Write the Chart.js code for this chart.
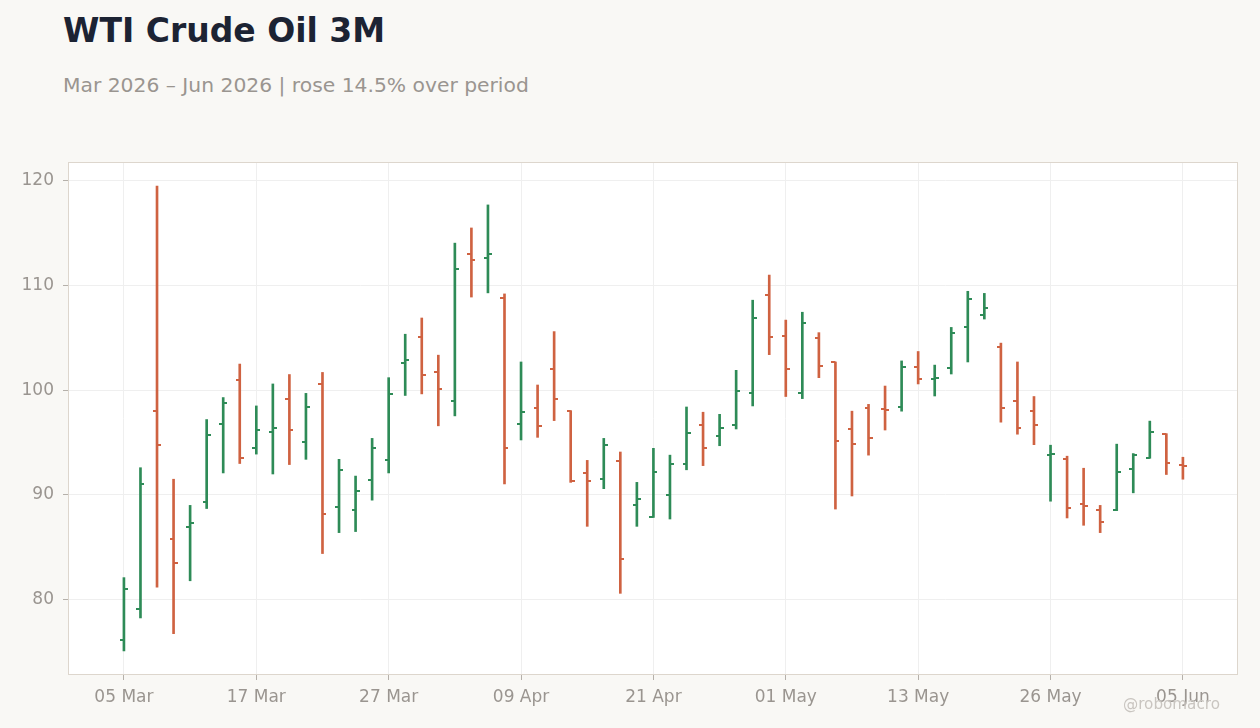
<!DOCTYPE html>
<html>
<head>
<meta charset="utf-8">
<script src="https://cdn.jsdelivr.net/npm/chart.js@4.4.1/dist/chart.umd.min.js"></script>
<style>
  html, body { margin: 0; padding: 0; background: #f9f8f5; }
  body { width: 1260px; height: 728px; position: relative; overflow: hidden; font-family: 'DejaVu Sans', sans-serif; }
  #title { position: absolute; left: 63px; top: 14px; font-size: 33px; line-height: 33px; font-weight: bold; color: #1c2333; white-space: nowrap; }
  #subtitle { position: absolute; left: 63px; top: 75px; font-size: 20.3px; line-height: 20.3px; color: #9a9590; white-space: nowrap; }
  #credit { position: absolute; left: 1123px; top: 697px; font-size: 15.2px; line-height: 15.2px; color: #c9c5c0; white-space: nowrap; }
  canvas { position: absolute; left: 0; top: 0; }
</style>
</head>
<body>
<div id="title">WTI Crude Oil 3M</div>
<div id="subtitle">Mar 2026 – Jun 2026 | rose 14.5% over period</div>
<canvas id="ohlcChart" width="1260" height="728"></canvas>
<div id="credit">@robomacro</div>
<script>
// trading days
const dates = [
  '05 Mar', '06 Mar', '09 Mar', '10 Mar', '11 Mar', '12 Mar', '13 Mar', '16 Mar', '17 Mar', '18 Mar',
  '19 Mar', '20 Mar', '23 Mar', '24 Mar', '25 Mar', '26 Mar', '27 Mar', '30 Mar', '31 Mar', '01 Apr',
  '02 Apr', '06 Apr', '07 Apr', '08 Apr', '09 Apr', '10 Apr', '13 Apr', '14 Apr', '15 Apr', '16 Apr',
  '17 Apr', '20 Apr', '21 Apr', '22 Apr', '23 Apr', '24 Apr', '27 Apr', '28 Apr', '29 Apr', '30 Apr',
  '01 May', '04 May', '05 May', '06 May', '07 May', '08 May', '11 May', '12 May', '13 May', '14 May',
  '15 May', '18 May', '19 May', '20 May', '21 May', '22 May', '26 May', '27 May', '28 May', '29 May',
  '01 Jun', '02 Jun', '03 Jun', '04 Jun', '05 Jun'
];

const opens = [
  76.1, 79.1, 98.0, 85.8, 86.9, 89.3, 96.75, 101.0, 94.5, 96.0,
  99.2, 95.1, 100.6, 88.85, 88.6, 91.4, 93.3, 102.6, 105.1, 101.75,
  99.0, 113.0, 112.6, 108.8, 96.8, 98.3, 102.0, 98.05, 92.1, 91.5,
  93.25, 89.05, 87.9, 90.0, 93.0, 96.7, 95.6, 96.7, 99.75, 109.1,
  105.2, 99.75, 105.0, 102.7, 96.3, 98.3, 98.2, 98.4, 102.2, 101.05,
  102.1, 106.05, 107.2, 104.15, 99.0, 98.0, 93.85, 93.45, 89.15, 88.6,
  88.6, 92.5, 93.55, 95.8, 92.9
];
const highs = [
  82.1, 92.6, 119.5, 91.5, 89.0, 97.2, 99.3, 102.5, 98.5, 100.6,
  101.5, 99.7, 101.7, 93.4, 91.8, 95.4, 101.2, 105.35, 106.9, 103.35,
  114.05, 115.5, 117.7, 109.2, 102.7, 100.5, 105.6, 98.05, 93.3, 95.4,
  94.1, 91.2, 94.45, 93.8, 98.4, 97.9, 97.7, 101.9, 108.6, 111.0,
  106.7, 107.45, 105.5, 102.7, 98.0, 98.65, 100.4, 102.8, 103.7, 102.4,
  106.0, 109.45, 109.25, 104.5, 102.7, 99.4, 94.75, 93.7, 92.55, 89.0,
  94.85, 93.95, 97.05, 95.85, 93.6
];
const lows = [
  75.1, 78.25, 81.2, 76.75, 81.8, 88.7, 92.1, 93.0, 93.9, 92.0,
  92.9, 93.4, 84.4, 86.4, 86.5, 89.5, 92.1, 99.5, 99.65, 96.6,
  97.55, 108.9, 109.3, 91.05, 95.25, 95.5, 97.1, 91.2, 87.0, 90.6,
  80.6, 87.0, 87.85, 87.7, 92.4, 92.8, 94.7, 96.3, 98.5, 103.4,
  99.4, 99.2, 101.2, 88.65, 89.9, 93.8, 96.2, 98.0, 100.6, 99.45,
  101.55, 102.7, 106.8, 96.95, 95.8, 94.8, 89.4, 87.8, 87.1, 86.4,
  88.5, 90.2, 93.5, 91.95, 91.5
];
const closes = [
  81.0, 91.0, 94.75, 83.5, 87.3, 95.7, 98.8, 93.5, 96.2, 96.4,
  96.2, 98.4, 88.2, 92.4, 90.4, 94.5, 99.65, 102.9, 101.5, 100.1,
  111.6, 112.45, 113.0, 94.5, 97.9, 96.6, 99.2, 91.3, 91.35, 94.75,
  83.9, 89.6, 92.2, 93.0, 95.9, 94.5, 96.4, 99.9, 106.9, 105.1,
  102.0, 106.4, 102.3, 95.15, 94.85, 95.45, 98.1, 102.2, 101.05, 101.2,
  105.45, 108.7, 107.85, 98.3, 96.4, 96.7, 93.9, 88.75, 88.95, 87.4,
  92.2, 93.8, 96.0, 93.05, 92.8
];

const yTicks = [80, 90, 100, 110, 120];
const xTickEvery = 8;

const UP = '#2e8b57';
const DOWN = '#cf6241';

const colors = closes.map((c, i) => (c >= opens[i] ? UP : DOWN));

// small images for the open (left) and close (right) ticks
function tickImage(color, side) {
  const c = document.createElement('canvas');
  c.width = 8;
  c.height = 2;
  const g = c.getContext('2d');
  g.fillStyle = color;
  g.fillRect(side === 'left' ? 0 : 4, 0, 4, 2);
  return c;
}
const openImg = { [UP]: tickImage(UP, 'left'), [DOWN]: tickImage(DOWN, 'left') };
const closeImg = { [UP]: tickImage(UP, 'right'), [DOWN]: tickImage(DOWN, 'right') };

const framePlugin = {
  id: 'frame',
  beforeDraw(chart) {
    const { ctx, chartArea: a } = chart;
    ctx.save();
    ctx.fillStyle = '#ffffff';
    ctx.fillRect(a.left, a.top, a.right - a.left, a.bottom - a.top);
    ctx.restore();
  },
  afterDraw(chart) {
    const { ctx, chartArea: a } = chart;
    ctx.save();
    ctx.strokeStyle = '#ddd6cd';
    ctx.lineWidth = 1;
    ctx.strokeRect(a.left + 0.5, a.top + 0.5, a.right - a.left - 1, a.bottom - a.top - 1);
    ctx.restore();
  }
};

const tickFont = { family: "'DejaVu Sans', sans-serif", size: 17 };

new Chart(document.getElementById('ohlcChart'), {
  type: 'bar',
  data: {
    datasets: [
      {
        type: 'line',
        label: 'Open',
        data: opens.map((v, i) => ({ x: i, y: v })),
        showLine: false,
        pointStyle: colors.map(c => openImg[c]),
        order: 0
      },
      {
        type: 'line',
        label: 'Close',
        data: closes.map((v, i) => ({ x: i, y: v })),
        showLine: false,
        pointStyle: colors.map(c => closeImg[c]),
        order: 0
      },
      {
        label: 'Range',
        data: lows.map((l, i) => ({ x: i, y: [l, highs[i]] })),
        backgroundColor: colors,
        barThickness: 2,
        borderWidth: 0,
        borderSkipped: false,
        order: 1
      }
    ]
  },
  options: {
    responsive: false,
    animation: false,
    events: [],
    layout: { padding: { top: 162, right: 22, bottom: 0, left: 0 } },
    plugins: {
      legend: { display: false },
      tooltip: { enabled: false }
    },
    scales: {
      x: {
        type: 'linear',
        min: -3.38,
        max: 67.33,
        offset: false,
        border: { display: false },
        grid: { color: '#efefef', tickColor: '#b5b0aa', tickLength: 5, offset: false },
        ticks: {
          color: '#9a9590',
          font: tickFont,
          padding: 7,
          maxRotation: 0,
          callback: v => dates[v] || ''
        },
        afterBuildTicks: scale => {
          scale.ticks = dates.map((d, i) => i).filter(i => i % xTickEvery === 0).map(i => ({ value: i }));
        },
        afterFit: scale => { scale.height = 53; }
      },
      y: {
        min: 72.8,
        max: 121.8,
        border: { display: false },
        grid: { color: '#efefef', tickColor: '#b5b0aa', tickLength: 5 },
        ticks: { color: '#9a9590', font: tickFont, padding: 9 },
        afterBuildTicks: scale => {
          scale.ticks = yTicks.map(v => ({ value: v }));
        },
        afterFit: scale => { scale.width = 68; }
      }
    }
  },
  plugins: [framePlugin]
});
</script>
</body>
</html>
